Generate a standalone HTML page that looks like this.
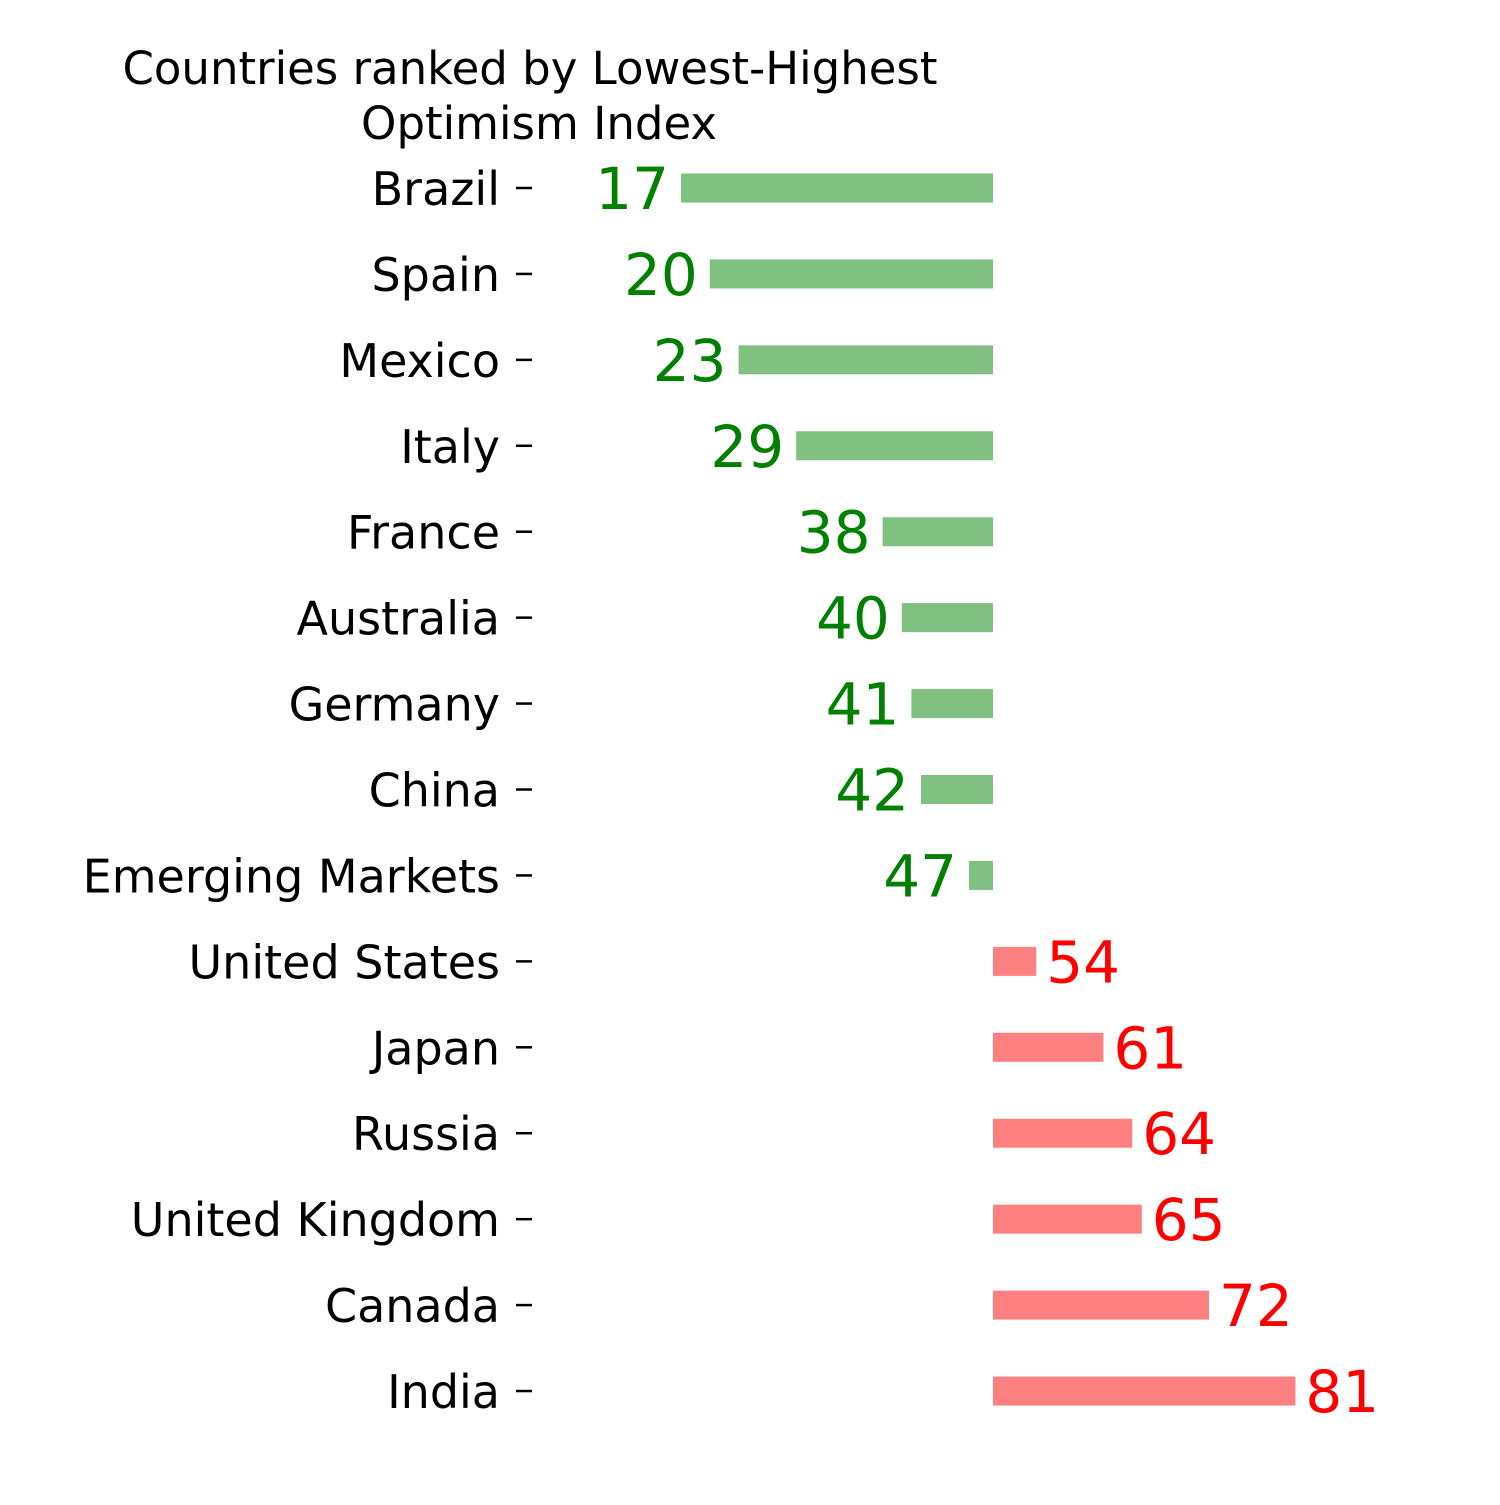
<!DOCTYPE html>
<html><head><meta charset="utf-8"><style>
body{margin:0;background:#fff}
svg text{font-family:"DejaVu Sans","Liberation Sans",sans-serif}
</style></head><body>
<svg id="chart" width="1500" height="1500" viewBox="0 0 1500 1500" xmlns="http://www.w3.org/2000/svg">
<rect width="1500" height="1500" fill="#fff"/>
<text x="530" y="84" font-size="45" text-anchor="middle">Countries ranked by Lowest-Highest</text>
<text x="539" y="139" font-size="45" text-anchor="middle">Optimism Index</text>
<g id="marks"></g>
</svg>
<script>
const countries = ["Brazil","Spain","Mexico","Italy","France","Australia","Germany","China","Emerging Markets","United States","Japan","Russia","United Kingdom","Canada","India"];
const values = [17,20,23,29,38,40,41,42,47,54,61,64,65,72,81];
const centerValue = 49.5;
function xScale(v){ return 993 + (v - centerValue) * 9.6; }
function yScale(i){ return 188 + i * 85.93; }
const g = document.getElementById('marks');
const NS = 'http://www.w3.org/2000/svg';
countries.forEach((c, i) => {
  const y = yScale(i), v = values[i];
  const x0 = xScale(centerValue), x1 = xScale(v);
  const neg = v < centerValue;
  const r = document.createElementNS(NS, 'rect');
  
  
  r.setAttribute('x', Math.min(x0, x1)); r.setAttribute('width', Math.abs(x1 - x0));
  r.setAttribute('y', y - 14.5); r.setAttribute('height', 29);
  r.setAttribute('fill', neg ? '#80c080' : '#ff8080');
  g.appendChild(r);
  const t = document.createElementNS(NS, 'text');
  
  
  t.setAttribute('x', neg ? x1 - 12 : x1 + 10);
  t.setAttribute('y', y + 21);
  t.setAttribute('font-size', '58');
  t.setAttribute('text-anchor', neg ? 'end' : 'start');
  t.setAttribute('fill', neg ? 'green' : 'red');
  t.textContent = v;
  g.appendChild(t);
  const l = document.createElementNS(NS, 'text');
  
  
  l.setAttribute('x', 500); l.setAttribute('y', y + 17);
  l.setAttribute('font-size', '46'); l.setAttribute('text-anchor', 'end');
  l.textContent = c;
  g.appendChild(l);
  const k = document.createElementNS(NS, 'line');
  
  
  k.setAttribute('x1', 516); k.setAttribute('x2', 532);
  k.setAttribute('y1', y); k.setAttribute('y2', y);
  k.setAttribute('stroke', '#000'); k.setAttribute('stroke-width', 2.5);
  g.appendChild(k);
});
</script>
</body></html>
